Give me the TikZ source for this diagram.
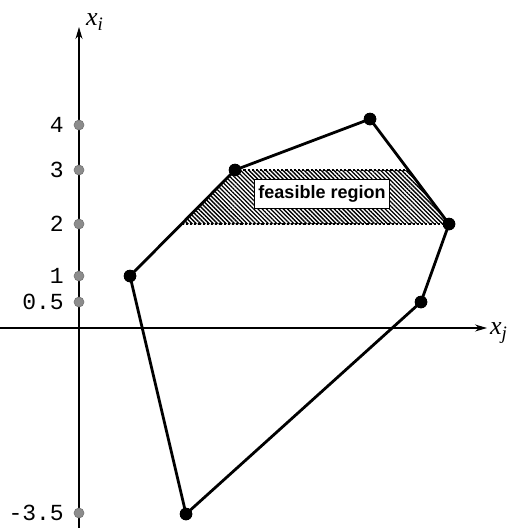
\documentclass[tikz,border=0pt]{standalone}
\usepackage{fontspec}
\newfontfamily\tickfont{Liberation Mono}
\newfontfamily\labfont{Liberation Sans}
\newfontfamily\serfont{Liberation Serif}
\usetikzlibrary{patterns.meta,arrows.meta}
\begin{document}
\begin{tikzpicture}[x=1pt,y=-1pt,
  vtx/.style={circle,fill=black,inner sep=0pt,minimum size=12.5pt},
  tickdot/.style={circle,fill=black!45,draw=black!55,line width=0.6pt,inner sep=0pt,minimum size=10pt},
  ticklab/.style={anchor=east,font=\tickfont\fontsize{23}{23}\selectfont,inner sep=0pt},
  axlab/.style={font=\serfont\itshape\fontsize{26}{26}\selectfont,inner sep=0pt},
  edge/.style={line width=2.8pt,line join=round},
  axis/.style={line width=1.1pt,-{Stealth[length=12pt,width=7pt]}}]
\useasboundingbox (0,0) rectangle (511,528);
% feasible region
\coordinate (h1) at (235,170);
\coordinate (h2) at (408,170);
\coordinate (h3) at (449,224);
\coordinate (h4) at (181.5,224);
\fill[pattern={Lines[angle=-45,distance=3pt,line width=1.35pt]}] (h1) -- (h2) -- (h3) -- (h4) -- cycle;
\draw[line width=2.2pt,dotted] (h1) -- (h2);
\draw[line width=2.2pt,dotted] (h4) -- (h3);
% axes
\coordinate (yb) at (79,528);
\coordinate (yt) at (79,27);
\coordinate (xl) at (0,328);
\coordinate (xr) at (487,328);
\draw[axis] (yb) -- (yt);
\draw[axis] (xl) -- (xr);
\node[axlab,anchor=base west] (xi) at (86,25) {x\raisebox{-5pt}{\fontsize{19}{19}\selectfont i}};
\node[axlab,anchor=base west] (xj) at (490,334) {x\raisebox{-5pt}{\fontsize{19}{19}\selectfont j}};
% ticks
\foreach \n/\yy/\t in {t4/125/4, t3/170/3, t2/224/2, t1/276/1, t05/302/0.5, tm/513/-3.5}{
  \node[tickdot] (\n) at (79,\yy) {};
  \node[ticklab] at (64,\yy) {\t};
}
% polygon
\node[vtx] (a) at (130,276) {};
\node[vtx] (b) at (235,170) {};
\node[vtx] (c) at (370,119) {};
\node[vtx] (d) at (449,224) {};
\node[vtx] (e) at (421,302) {};
\node[vtx] (f) at (186,514) {};
\draw[edge] (a.center) -- (b.center) -- (c.center) -- (d.center) -- (e.center) -- (f.center) -- cycle;
\node[vtx] at (a) {};
\node[vtx] at (b) {};
\node[vtx] at (c) {};
\node[vtx] at (d) {};
\node[vtx] at (e) {};
\node[vtx] at (f) {};
\node[draw,fill=white,line width=0.8pt,font=\labfont\bfseries\fontsize{18}{18}\selectfont,inner xsep=4pt,inner ysep=6pt] (fr) at (322,193.5) {feasible region};
\end{tikzpicture}
\end{document}
